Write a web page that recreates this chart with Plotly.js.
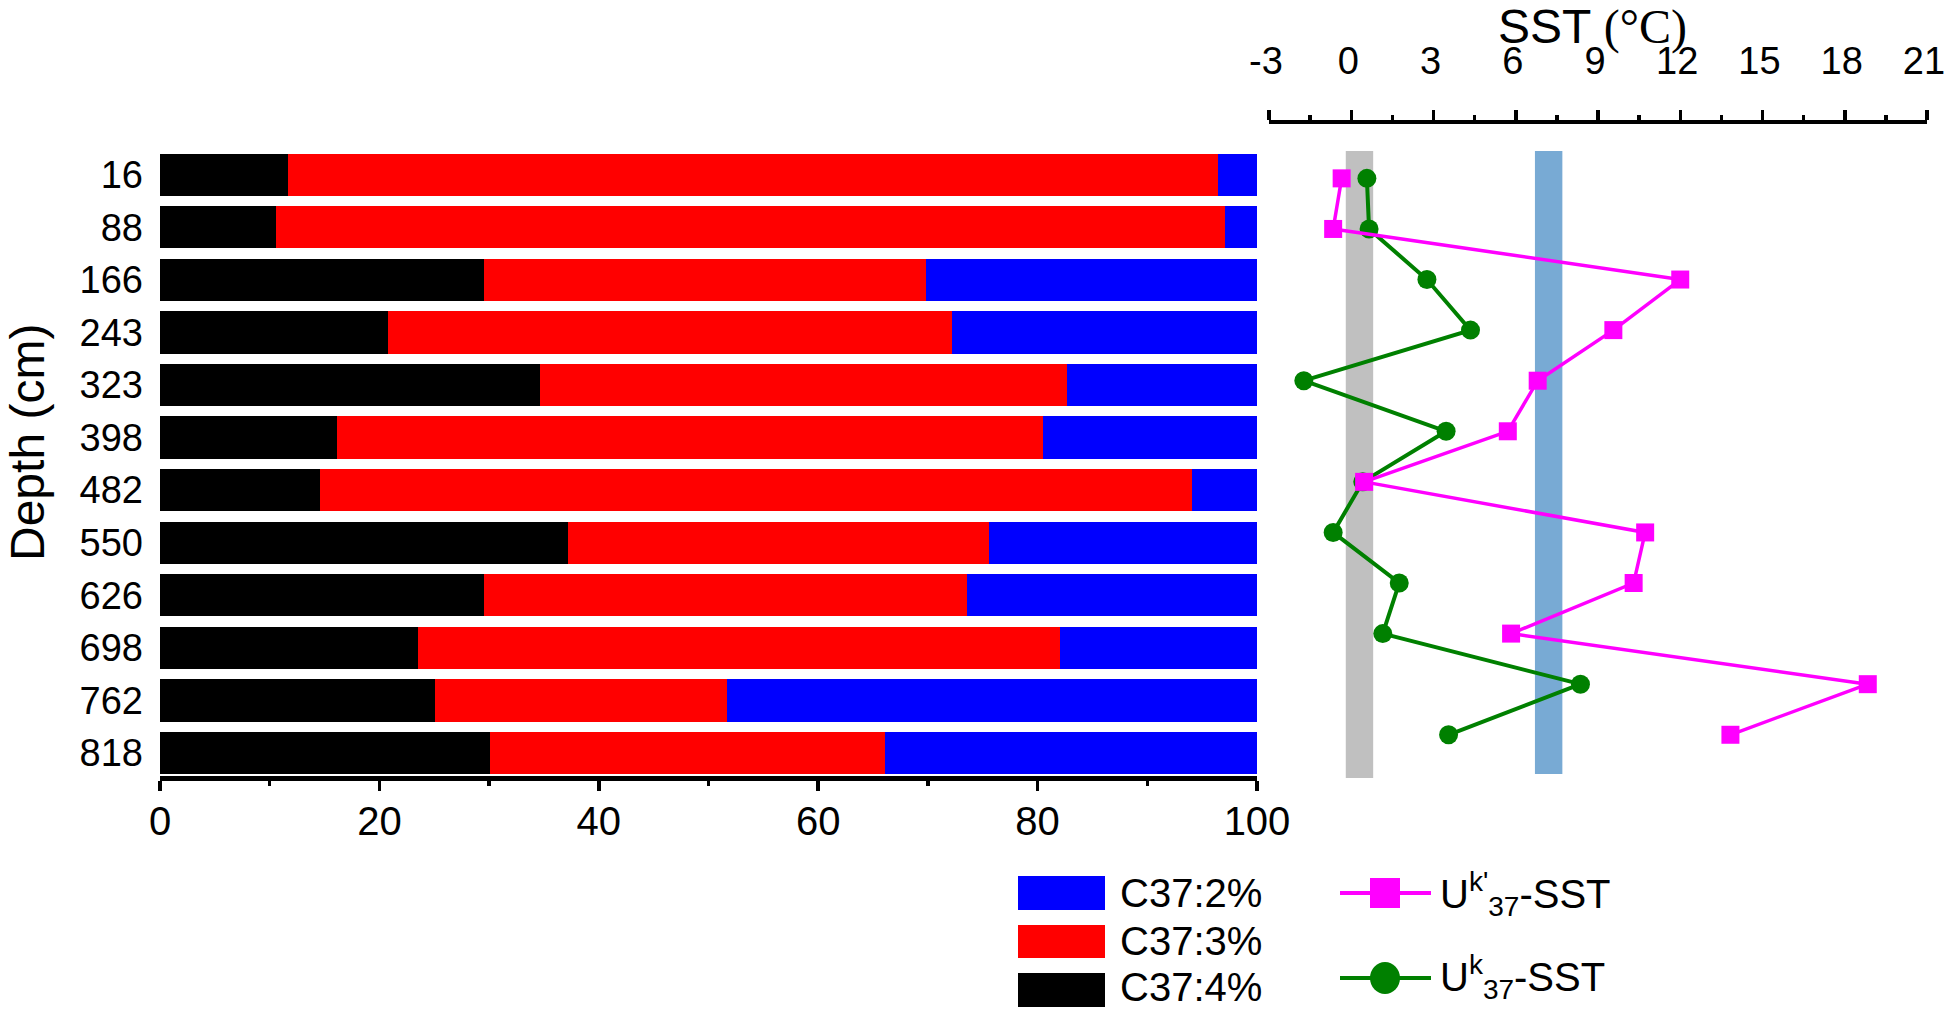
<!DOCTYPE html>
<html>
<head>
<meta charset="utf-8">
<script src="https://cdn.plot.ly/plotly-3.0.1.min.js"></script>
<style>
  html, body { margin: 0; padding: 0; background: #ffffff; }
  #chart { width: 1946px; height: 1010px; }
</style>
</head>
<body>
<div id="chart"></div>
<script>
// ---------------- data ----------------
const depths = ['16', '88', '166', '243', '323', '398', '482', '550', '626', '698', '762', '818'];

// C37 alkenone relative abundances (%)
const c37_4 = [11.7, 10.6, 29.5, 20.8, 34.6, 16.1, 14.6, 37.2, 29.5, 23.5, 25.1, 30.1];
const c37_3 = [84.7, 86.5, 40.3, 51.4, 48.1, 64.4, 79.5, 38.4, 44.1, 58.5, 26.6, 36.0];
const c37_2 = [3.6, 2.9, 30.2, 27.8, 17.3, 19.5, 5.9, 24.4, 26.4, 18.0, 48.3, 33.9];

// SST estimates (°C)
const ukPrimeSST = [-0.35, -0.66, 12.0, 9.56, 6.80, 5.71, 0.47, 10.72, 10.30, 5.83, 18.84, 13.83];
const ukSST      = [0.57, 0.65, 2.76, 4.35, -1.73, 3.46, 0.42, -0.66, 1.75, 1.15, 8.36, 3.55];

// reference SST ranges (°C)
const grayBand = [-0.2, 0.8];
const blueBand = [6.7, 7.7];

// axis ticks
const pctTicks = [0, 20, 40, 60, 80, 100];
const sstTicks = [-3, 0, 3, 6, 9, 12, 15, 18, 21];

// legend labels
const barNames = ['C37:2%', 'C37:3%', 'C37:4%'];
const lineNames = ["U<sup>k'</sup><sub>37</sub>-SST", "U<sup>k</sup><sub>37</sub>-SST"];

// ---------------- layout helpers ----------------
const W = 1946, H = 1010;
const px = v => v / W;
const py = v => 1 - v / H;
const FONT = 'Arial, "Liberation Sans", Helvetica, sans-serif';

const traces = [
  { type: 'bar', orientation: 'h', name: barNames[2], y: depths, x: c37_4,
    xaxis: 'x', yaxis: 'y', width: 0.805, marker: { color: '#000000', line: { width: 0 } } },
  { type: 'bar', orientation: 'h', name: barNames[1], y: depths, x: c37_3,
    xaxis: 'x', yaxis: 'y', width: 0.805, marker: { color: '#ff0000', line: { width: 0 } } },
  { type: 'bar', orientation: 'h', name: barNames[0], y: depths, x: c37_2,
    xaxis: 'x', yaxis: 'y', width: 0.805, marker: { color: '#0000ff', line: { width: 0 } } },
  { type: 'scatter', mode: 'lines+markers', name: 'Uk37-SST', x: ukSST, y: depths,
    xaxis: 'x2', yaxis: 'y2', cliponaxis: false,
    line: { color: '#008000', width: 4 },
    marker: { symbol: 'circle', size: 19, color: '#008000', line: { width: 0 } } },
  { type: 'scatter', mode: 'lines+markers', name: "Uk'37-SST", x: ukPrimeSST, y: depths,
    xaxis: 'x2', yaxis: 'y2', cliponaxis: false,
    line: { color: '#ff00ff', width: 3.5 },
    marker: { symbol: 'square', size: 18, color: '#ff00ff', line: { width: 0 } } }
];

const shapes = [
  { type: 'rect', xref: 'x2', yref: 'paper', x0: grayBand[0], x1: grayBand[1],
    y0: py(778), y1: py(151), fillcolor: 'rgb(192,192,192)', line: { width: 0 }, layer: 'below' },
  { type: 'rect', xref: 'x2', yref: 'paper', x0: blueBand[0], x1: blueBand[1],
    y0: py(774), y1: py(151), fillcolor: 'rgb(120,170,212)', line: { width: 0 }, layer: 'below' },
  // legend swatches
  { type: 'rect', xref: 'paper', yref: 'paper', x0: px(1018), x1: px(1105), y0: py(910), y1: py(876),
    fillcolor: '#0000ff', line: { width: 0 } },
  { type: 'rect', xref: 'paper', yref: 'paper', x0: px(1018), x1: px(1105), y0: py(958), y1: py(925),
    fillcolor: '#ff0000', line: { width: 0 } },
  { type: 'rect', xref: 'paper', yref: 'paper', x0: px(1018), x1: px(1105), y0: py(1007), y1: py(973),
    fillcolor: '#000000', line: { width: 0 } },
  { type: 'line', xref: 'paper', yref: 'paper', x0: px(1340), x1: px(1431), y0: py(893), y1: py(893),
    line: { color: '#ff00ff', width: 4 } },
  { type: 'rect', xref: 'paper', yref: 'paper', x0: px(1370), x1: px(1400), y0: py(908), y1: py(878),
    fillcolor: '#ff00ff', line: { width: 0 } },
  { type: 'line', xref: 'paper', yref: 'paper', x0: px(1340), x1: px(1431), y0: py(978), y1: py(978),
    line: { color: '#008000', width: 4 } },
  { type: 'circle', xref: 'paper', yref: 'paper', x0: px(1370), x1: px(1400), y0: py(994), y1: py(962),
    fillcolor: '#008000', line: { width: 0 } }
];

const annotations = [
  { xref: 'paper', yref: 'paper', x: px(28), y: py(443), text: 'Depth (cm)', textangle: -90,
    showarrow: false, xanchor: 'center', yanchor: 'middle', font: { family: FONT, size: 48, color: '#000' } },
  { xref: 'paper', yref: 'paper', x: px(1592), y: py(27),
    text: 'SST <span style="font-family:\'Liberation Serif\', \'Times New Roman\', serif">(°C)</span>',
    showarrow: false, xanchor: 'center', yanchor: 'middle', font: { family: FONT, size: 48, color: '#000' } },
  { xref: 'paper', yref: 'paper', x: px(1118), y: py(893), text: barNames[0], showarrow: false,
    xanchor: 'left', yanchor: 'middle', font: { family: FONT, size: 40, color: '#000' } },
  { xref: 'paper', yref: 'paper', x: px(1118), y: py(941), text: barNames[1], showarrow: false,
    xanchor: 'left', yanchor: 'middle', font: { family: FONT, size: 40, color: '#000' } },
  { xref: 'paper', yref: 'paper', x: px(1118), y: py(987), text: barNames[2], showarrow: false,
    xanchor: 'left', yanchor: 'middle', font: { family: FONT, size: 40, color: '#000' } },
  { xref: 'paper', yref: 'paper', x: px(1438), y: py(894), text: lineNames[0], showarrow: false,
    xanchor: 'left', yanchor: 'middle', font: { family: FONT, size: 40, color: '#000' } },
  { xref: 'paper', yref: 'paper', x: px(1438), y: py(977), text: lineNames[1], showarrow: false,
    xanchor: 'left', yanchor: 'middle', font: { family: FONT, size: 40, color: '#000' } }
];

const layout = {
  width: W, height: H,
  margin: { l: 0, r: 0, t: 0, b: 0, pad: 0 },
  paper_bgcolor: '#ffffff', plot_bgcolor: 'rgba(0,0,0,0)',
  showlegend: false,
  barmode: 'stack',
  font: { family: FONT, color: '#000' },
  xaxis: {
    domain: [px(160), px(1257)], range: [0, 100], anchor: 'y',
    tickmode: 'array', tickvals: pctTicks, ticktext: pctTicks.map(String),
    ticks: 'outside', ticklen: 10, tickwidth: 3.5, tickcolor: '#000',
    minor: { tickmode: 'linear', tick0: 0, dtick: 10, ticks: 'outside', ticklen: 5, tickwidth: 3.5, tickcolor: '#000', showgrid: false },
    showline: true, linewidth: 5, linecolor: '#000', mirror: false,
    showgrid: false, zeroline: false, fixedrange: true,
    tickfont: { family: FONT, size: 40, color: '#000' }, ticklabelstandoff: -4,
    ticklabeloverflow: 'allow'
  },
  yaxis: {
    domain: [py(776), py(140)], anchor: 'x',
    type: 'category', categoryorder: 'array', categoryarray: depths,
    range: [11.438, -0.660],
    ticks: '', showline: false, showgrid: false, zeroline: false, fixedrange: true,
    tickfont: { family: FONT, size: 38, color: '#000' }, ticklabelstandoff: 16
  },
  xaxis2: {
    domain: [px(1269), px(1927)], range: [-3, 21], anchor: 'y2', side: 'top',
    tickmode: 'array', tickvals: sstTicks, ticktext: sstTicks.map(String),
    ticks: 'outside', ticklen: 10, tickwidth: 3.5, tickcolor: '#000',
    minor: { tickmode: 'linear', tick0: -3, dtick: 1.5, ticks: 'outside', ticklen: 5, tickwidth: 3.5, tickcolor: '#000', showgrid: false },
    showline: true, linewidth: 4, linecolor: '#000',
    showgrid: false, zeroline: false, fixedrange: true,
    tickfont: { family: FONT, size: 38, color: '#000' }, ticklabelstandoff: 21, ticklabelshift: -3,
    ticklabeloverflow: 'allow'
  },
  yaxis2: {
    domain: [py(790), py(124)], anchor: 'x2',
    type: 'category', categoryorder: 'array', categoryarray: depths,
    range: [12.092, -1.075], visible: false, showgrid: false, zeroline: false, fixedrange: true
  },
  shapes: shapes,
  annotations: annotations
};

Plotly.newPlot('chart', traces, layout, { staticPlot: true, displayModeBar: false });
</script>
</body>
</html>
